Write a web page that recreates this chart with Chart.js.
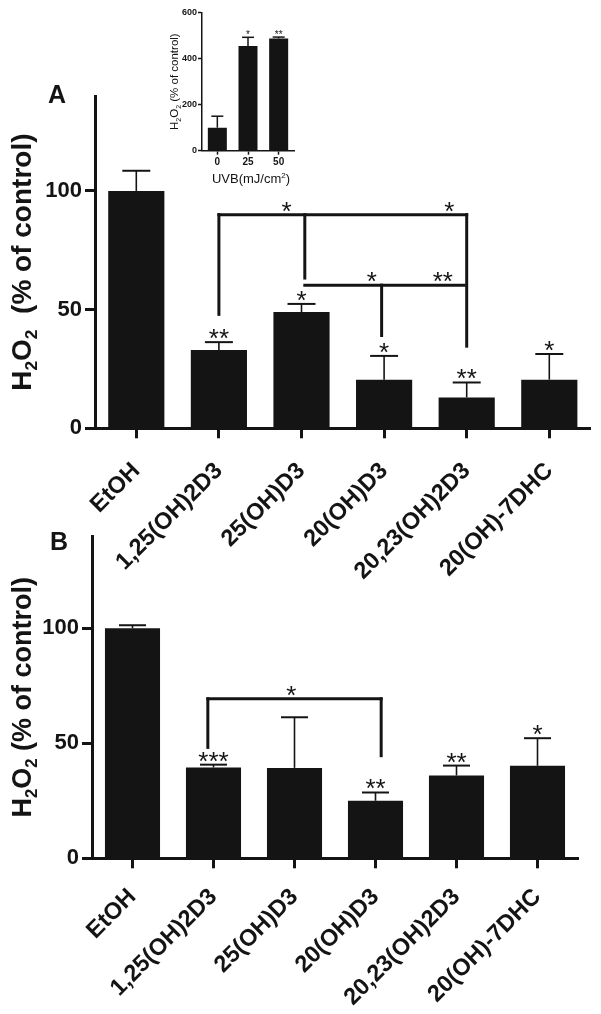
<!DOCTYPE html>
<html>
<head>
<meta charset="utf-8">
<script src="https://cdn.jsdelivr.net/npm/chart.js@4.4.1/dist/chart.umd.min.js"></script>
<style>
body { margin: 0; background: #fff; }
#wrap { position: relative; width: 601px; height: 1014px; }
canvas { position: absolute; }
</style>
</head>
<body>
<div id="wrap">
  <canvas id="chartA" width="601" height="580" style="left:0;top:0"></canvas>
  <canvas id="inset" width="160" height="195" style="left:150px;top:0"></canvas>
  <canvas id="chartB" width="601" height="494" style="left:0;top:520px"></canvas>
</div>
<script>
const FONT = "'Liberation Sans', Arial, sans-serif";
const INK = '#141414';

// treatments (both panels)
const treatments = ['EtOH', '1,25(OH)2D3', '25(OH)D3', '20(OH)D3', '20,23(OH)2D3', '20(OH)-7DHC'];

// panel A
const meanA = [100, 33, 49, 20.5, 13, 20.5];
const semA = [8.5, 3.3, 3.4, 10, 6.3, 10.8];
const starsA = ['', '**', '*', '*', '**', '*'];
// bracket segments: [x1, y1, x2, y2] in category index / % units
const bracketsA = [
  [1, 90, 4, 90],
  [1, 90, 1, 48],
  [4, 90, 4, 34.6],
  [2.04, 90, 2.04, 63.3],
  [2.04, 60.3, 3.97, 60.3],
  [2.97, 60.3, 2.97, 39.1]
];
const bracketStarsA = [[1.82, 90, '*'], [3.79, 90, '*'], [2.85, 60.3, '*'], [3.71, 60.3, '**']];

// panel B
const meanB = [100, 39.5, 39.3, 25, 36, 40.2];
const semB = [1.3, 1.2, 22, 3.6, 4.3, 12];
const starsB = ['', '***', '', '**', '**', '*'];
const bracketsB = [
  [0.93, 69.3, 3.07, 69.3],
  [0.93, 69.3, 0.93, 48.2],
  [3.07, 69.3, 3.07, 44.6]
];
const bracketStarsB = [[1.96, 69.3, '*']];

// inset (UVB dose)
const uvbDoses = ['0', '25', '50'];
const meanUVB = [100, 455, 488];
const semUVB = [50, 38, 6];
const starsUVB = ['', '*', '**'];

function drawStar(ctx, text, x, bottom, size) {
  ctx.font = size + 'px ' + FONT;
  ctx.textAlign = 'center';
  ctx.textBaseline = 'alphabetic';
  const m = ctx.measureText(text);
  ctx.fillText(text, x, bottom - m.actualBoundingBoxDescent);
}

// text with subscript / superscript pieces, optionally rotated
function drawRich(ctx, parts, x, y, size, weight, rotate) {
  ctx.save();
  ctx.translate(x, y);
  if (rotate) ctx.rotate(-Math.PI / 2);
  ctx.textAlign = 'left';
  ctx.textBaseline = 'alphabetic';
  let total = 0;
  parts.forEach(p => {
    ctx.font = weight + ' ' + (p[1] ? size * 0.62 : size) + 'px ' + FONT;
    total += ctx.measureText(p[0]).width;
  });
  let u = -total / 2;
  parts.forEach(p => {
    const s = p[1] ? size * 0.62 : size;
    ctx.font = weight + ' ' + s + 'px ' + FONT;
    const dy = p[1] === 'sub' ? size * 0.22 : p[1] === 'sup' ? -size * 0.4 : 0;
    ctx.fillText(p[0], u, dy);
    u += ctx.measureText(p[0]).width;
  });
  ctx.restore();
}

function panelPlugin(cfg) {
  return {
    id: 'panel',
    afterDatasetsDraw(chart) {
      const ctx = chart.ctx;
      const xs = chart.scales.x, ys = chart.scales.y;
      ctx.save();
      ctx.strokeStyle = INK;
      ctx.fillStyle = INK;
      chart.getDatasetMeta(0).data.forEach((bar, i) => {
        const yCap = ys.getPixelForValue(cfg.mean[i] + cfg.sem[i]);
        ctx.lineWidth = cfg.stemW;
        ctx.beginPath(); ctx.moveTo(bar.x, bar.y); ctx.lineTo(bar.x, yCap); ctx.stroke();
        ctx.lineWidth = cfg.capW;
        ctx.beginPath(); ctx.moveTo(bar.x - cfg.capHalf, yCap); ctx.lineTo(bar.x + cfg.capHalf, yCap); ctx.stroke();
        if (cfg.stars[i]) drawStar(ctx, cfg.stars[i], bar.x, yCap - 3, cfg.starSize);
      });
      ctx.lineWidth = 3;
      ctx.lineCap = 'square';
      (cfg.brackets || []).forEach(b => {
        ctx.beginPath();
        ctx.moveTo(xs.getPixelForValue(b[0]), ys.getPixelForValue(b[1]));
        ctx.lineTo(xs.getPixelForValue(b[2]), ys.getPixelForValue(b[3]));
        ctx.stroke();
      });
      (cfg.bracketStars || []).forEach(s => {
        drawStar(ctx, s[2], xs.getPixelForValue(s[0]), ys.getPixelForValue(s[1]) - 3, cfg.starSize);
      });
      if (cfg.letter) {
        ctx.font = 'bold 25px ' + FONT;
        ctx.textAlign = 'left';
        ctx.textBaseline = 'alphabetic';
        ctx.fillText(cfg.letter[0], cfg.letter[1], cfg.letter[2]);
      }
      const yc = (chart.chartArea.top + chart.chartArea.bottom) / 2;
      drawRich(ctx, cfg.yTitle, cfg.yTitleX, yc, cfg.yTitleSize, cfg.yTitleWeight, true);
      if (cfg.xTitle) drawRich(ctx, cfg.xTitle, cfg.xTitle.x, cfg.xTitle.y, cfg.xTitle.size, 'normal', false);
      ctx.restore();
    }
  };
}

function makeChart(id, labels, mean, pad, ax, cfg) {
  return new Chart(document.getElementById(id), {
    type: 'bar',
    data: {
      labels: labels,
      datasets: [{
        data: mean,
        backgroundColor: INK,
        barPercentage: ax.barPct,
        categoryPercentage: 1
      }]
    },
    options: {
      responsive: false,
      animation: false,
      layout: { padding: pad },
      plugins: { legend: { display: false }, tooltip: { enabled: false } },
      scales: {
        x: {
          grid: { offset: false, drawOnChartArea: false, tickLength: ax.tick, tickWidth: ax.line, tickColor: INK },
          border: { width: ax.line, color: INK },
          ticks: {
            minRotation: ax.rot, maxRotation: ax.rot, padding: ax.xPad, color: INK,
            font: { family: FONT, size: ax.xFont, weight: 'bold' }
          },
          afterFit: s => { s.height = ax.xHeight; }
        },
        y: {
          min: 0, max: ax.max,
          grid: { drawOnChartArea: false, tickLength: ax.tick, tickWidth: ax.line, tickColor: INK },
          border: { width: ax.line, color: INK },
          ticks: {
            stepSize: ax.step, padding: ax.yPad, color: INK,
            font: { family: FONT, size: ax.yFont, weight: 'bold' }
          },
          afterBuildTicks: s => { s.ticks = s.ticks.filter(t => t.value % ax.step === 0); },
          afterFit: s => { s.width = ax.yWidth; }
        }
      }
    },
    plugins: [panelPlugin(cfg)]
  });
}

const mainAxis = { barPct: 0.68, tick: 10, line: 3, rot: 45, xFont: 23.5, yFont: 22, yPad: 3, max: 140, step: 50 };

makeChart('chartA', treatments, meanA,
  { left: 0, right: 10.4, top: 96, bottom: 0 },
  Object.assign({}, mainAxis, { xPad: 19, xHeight: 151.7, yWidth: 95 }),
  {
    mean: meanA, sem: semA, stars: starsA, brackets: bracketsA, bracketStars: bracketStarsA,
    stemW: 1.6, capW: 2, capHalf: 14, starSize: 26,
    letter: ['A', 48, 103],
    yTitle: [['H'], ['2', 'sub'], ['O'], ['2', 'sub'], ['  (% of control)']],
    yTitleX: 31, yTitleSize: 28, yTitleWeight: 'bold'
  });

makeChart('chartB', treatments, meanB,
  { left: 0, right: 23, top: 13.3, bottom: 0 },
  Object.assign({}, mainAxis, { xPad: 15, xHeight: 155.7, yWidth: 92 }),
  {
    mean: meanB, sem: semB, stars: starsB, brackets: bracketsB, bracketStars: bracketStarsB,
    stemW: 1.6, capW: 2, capHalf: 13.5, starSize: 26,
    letter: ['B', 50, 30],
    yTitle: [['H'], ['2', 'sub'], ['O'], ['2', 'sub'], [' (% of control)']],
    yTitleX: 31, yTitleSize: 27, yTitleWeight: 'bold'
  });

makeChart('inset', uvbDoses, meanUVB,
  { left: 0, right: 16, top: 12.7, bottom: 0 },
  { barPct: 0.62, tick: 4, line: 1.5, rot: 0, xPad: 2, xFont: 10, yFont: 9, yPad: 1, max: 600, step: 200, xHeight: 44.3, yWidth: 52 },
  {
    mean: meanUVB, sem: semUVB, stars: starsUVB,
    stemW: 1.5, capW: 1.5, capHalf: 6, starSize: 10,
    yTitle: [['H'], ['2', 'sub'], ['O'], ['2', 'sub'], [' (% of control)']],
    yTitleX: 28, yTitleSize: 11.5, yTitleWeight: 'normal',
    xTitle: Object.assign([['UVB(mJ/cm'], ['2', 'sup'], [')']], { x: 101, y: 183, size: 13 })
  });
</script>
</body>
</html>
